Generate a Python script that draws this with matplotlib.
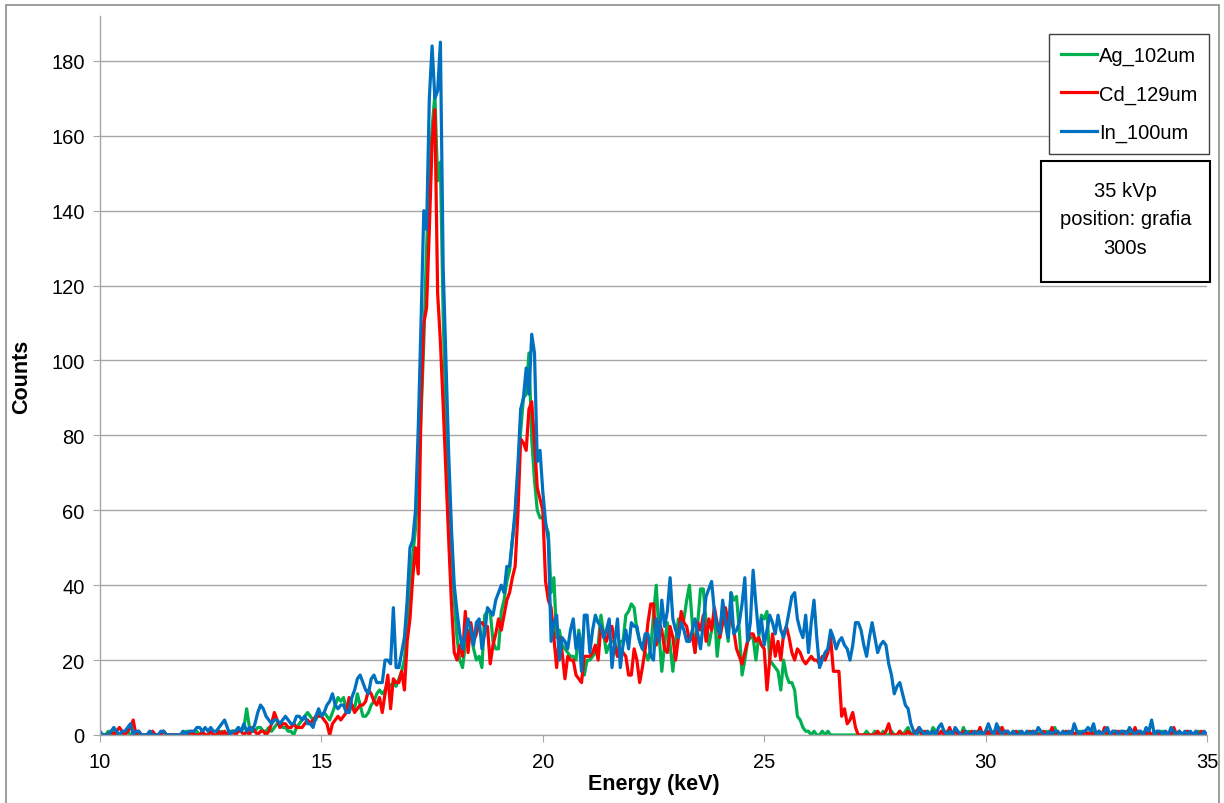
import numpy as np
import matplotlib
matplotlib.use("Agg")
import matplotlib.pyplot as plt
from matplotlib.patches import Rectangle

# energy grid: 10..35 keV, 1/16 keV per channel
energy = np.arange(401) / 16.0 + 10.0

# one row per keV (16 channels), last value is 35.0 keV
ag_102um = [
    0, 0, 0, 1, 0, 1, 0, 0, 0, 0, 1, 0, 0, 0, 0, 0,              # 10
    0, 0, 1, 0, 0, 0, 0, 1, 0, 0, 0, 0, 0, 0, 0, 1,              # 11
    0, 0, 0, 1, 0, 0, 0, 0, 1, 0, 0, 0, 1, 0, 0, 1,              # 12
    1, 1, 2, 1, 2, 7, 2, 1, 1, 2, 2, 1, 1, 2, 1, 2,              # 13
    3, 3, 2, 2, 1, 1, 0, 2, 3, 4, 5, 6, 5, 4, 4, 6,              # 14
    5, 6, 5, 4, 6, 8, 10, 9, 10, 7, 6, 8, 7, 11, 8, 5,           # 15
    5, 6, 8, 9, 11, 12, 11, 12, 14, 13, 14, 13, 15, 17, 20, 30,  # 16
    42, 48, 55, 68, 85, 105, 130, 148, 162, 171, 148, 153, 112, 85, 68, 52,  # 17
    36, 26, 20, 18, 24, 28, 27, 23, 20, 21, 18, 32, 33, 33, 25, 23,  # 18
    23, 33, 36, 41, 44, 52, 58, 70, 81, 90, 91, 102, 79, 68, 60, 58,  # 19
    58, 56, 54, 38, 42, 26, 28, 24, 23, 22, 21, 21, 20, 28, 24, 16,  # 20
    20, 20, 21, 22, 24, 32, 27, 22, 24, 25, 25, 21, 25, 25, 32, 33,  # 21
    35, 34, 28, 25, 23, 22, 20, 23, 32, 40, 27, 17, 24, 30, 24, 17,  # 22
    25, 31, 30, 31, 36, 40, 30, 22, 30, 39, 39, 30, 24, 28, 33, 21,  # 23
    28, 34, 30, 25, 38, 36, 37, 28, 16, 20, 25, 26, 26, 20, 26, 32,  # 24
    31, 33, 20, 19, 18, 17, 12, 20, 16, 14, 14, 12, 5, 4, 2, 1,  # 25
    1, 0, 1, 0, 0, 1, 0, 1, 0, 0, 0, 0, 0, 0, 0, 0,              # 26
    0, 0, 0, 0, 0, 1, 0, 0, 1, 0, 0, 1, 0, 0, 1, 0,              # 27
    0, 1, 0, 1, 2, 0, 1, 0, 1, 0, 0, 1, 0, 2, 1, 0,              # 28
    1, 0, 1, 0, 0, 1, 0, 0, 2, 0, 1, 0, 0, 1, 0, 0,              # 29
    1, 0, 0, 1, 0, 2, 0, 1, 0, 0, 1, 0, 1, 0, 0, 1,              # 30
    0, 1, 0, 0, 1, 0, 1, 0, 0, 2, 0, 0, 1, 0, 1, 0,              # 31
    0, 0, 1, 0, 1, 0, 0, 1, 0, 1, 0, 0, 1, 0, 0, 1,              # 32
    0, 1, 0, 0, 1, 0, 1, 0, 0, 0, 1, 0, 0, 1, 0, 0,              # 33
    1, 0, 0, 1, 0, 0, 1, 0, 0, 1, 0, 0, 0, 1, 0, 0,              # 34
    0,
]

cd_129um = [
    0, 0, 0, 0, 1, 0, 1, 2, 1, 0, 1, 2, 4, 0, 1, 0,              # 10
    0, 0, 0, 1, 0, 0, 0, 1, 0, 0, 0, 0, 0, 0, 0, 0,              # 11
    0, 1, 0, 0, 0, 1, 0, 0, 1, 0, 0, 1, 0, 1, 0, 0,              # 12
    1, 0, 1, 1, 0, 1, 0, 2, 1, 0, 1, 1, 0, 1, 3, 6,              # 13
    4, 2, 3, 3, 2, 2, 3, 2, 2, 2, 3, 4, 3, 4, 5, 5,              # 14
    5, 4, 3, 0, 3, 4, 5, 4, 5, 6, 10, 8, 6, 7, 8, 8,             # 15
    9, 12, 11, 9, 8, 10, 6, 11, 16, 7, 15, 14, 14, 17, 12, 25,   # 16
    31, 42, 50, 43, 88, 110, 114, 135, 158, 167, 118, 105, 88, 70, 52, 35,  # 17
    22, 20, 24, 21, 33, 22, 30, 25, 27, 30, 30, 29, 29, 19, 24, 27,  # 18
    31, 28, 32, 36, 38, 42, 45, 59, 79, 78, 76, 87, 89, 78, 66, 63,  # 19
    60, 41, 36, 34, 26, 18, 26, 22, 15, 21, 20, 20, 16, 15, 14, 21,  # 20
    21, 21, 22, 24, 20, 29, 27, 25, 28, 29, 24, 21, 23, 22, 21, 16,  # 21
    16, 23, 20, 14, 18, 23, 30, 35, 35, 24, 30, 28, 23, 22, 29, 26,  # 22
    20, 26, 33, 30, 29, 25, 27, 22, 30, 28, 32, 25, 31, 28, 34, 30,  # 23
    26, 30, 34, 30, 31, 28, 23, 21, 19, 22, 25, 27, 27, 25, 26, 24,  # 24
    23, 12, 20, 27, 21, 25, 20, 27, 29, 26, 22, 20, 23, 22, 20, 19,  # 25
    20, 21, 20, 20, 19, 21, 20, 22, 26, 17, 17, 17, 5, 7, 3, 4,  # 26
    6, 2, 0, 0, 0, 0, 0, 0, 0, 1, 0, 0, 1, 3, 0, 0,              # 27
    0, 1, 0, 0, 1, 0, 0, 1, 2, 0, 1, 0, 0, 1, 0, 0,              # 28
    1, 0, 0, 2, 0, 1, 0, 0, 1, 0, 0, 1, 0, 0, 2, 0,              # 29
    0, 1, 0, 0, 1, 0, 2, 0, 1, 0, 0, 1, 0, 1, 0, 0,              # 30
    1, 0, 1, 0, 0, 1, 0, 0, 2, 0, 1, 0, 0, 1, 0, 1,              # 31
    0, 1, 0, 0, 1, 0, 1, 0, 0, 1, 0, 2, 0, 0, 1, 0,              # 32
    1, 0, 0, 1, 0, 0, 2, 0, 1, 0, 0, 1, 0, 0, 1, 0,              # 33
    0, 1, 0, 0, 2, 0, 1, 0, 0, 1, 0, 0, 1, 0, 1, 0,              # 34
    0,
]

in_100um = [
    1, 0, 0, 0, 1, 2, 1, 0, 1, 1, 2, 3, 0, 1, 1, 0,              # 10
    0, 0, 1, 0, 0, 0, 1, 1, 0, 0, 0, 0, 0, 0, 1, 0,              # 11
    1, 1, 1, 2, 2, 1, 2, 1, 2, 1, 1, 2, 3, 4, 2, 0,              # 12
    1, 1, 2, 1, 3, 1, 2, 1, 3, 6, 8, 7, 5, 4, 3, 4,              # 13
    4, 3, 4, 5, 4, 3, 3, 5, 5, 4, 5, 3, 3, 2, 5, 7,              # 14
    5, 6, 8, 9, 11, 8, 7, 8, 8, 6, 6, 10, 12, 15, 16, 14,        # 15
    12, 11, 15, 16, 14, 14, 14, 20, 20, 19, 34, 18, 18, 22, 26, 36,  # 16
    50, 52, 60, 82, 110, 140, 135, 170, 184, 170, 172, 185, 125, 100, 75, 55,  # 17
    40, 33, 27, 23, 27, 31, 28, 24, 30, 31, 23, 27, 34, 33, 32, 36,  # 18
    38, 40, 38, 45, 45, 52, 60, 72, 87, 90, 98, 91, 107, 102, 73, 76,  # 19
    65, 57, 52, 25, 30, 32, 20, 26, 25, 23, 28, 31, 23, 27, 17, 32,  # 20
    32, 22, 28, 32, 30, 29, 26, 28, 31, 18, 25, 31, 18, 24, 28, 23,  # 21
    30, 29, 29, 25, 23, 27, 27, 21, 20, 31, 25, 36, 29, 33, 42, 31,  # 22
    28, 26, 30, 28, 25, 25, 28, 31, 27, 23, 30, 37, 39, 41, 33, 29,  # 23
    27, 36, 30, 26, 38, 27, 28, 30, 35, 42, 25, 30, 44, 35, 27, 31,  # 24
    24, 28, 32, 30, 27, 32, 28, 26, 29, 33, 37, 38, 31, 28, 26, 32,  # 25
    22, 30, 36, 26, 18, 20, 22, 23, 28, 26, 23, 25, 26, 24, 23, 20,  # 26
    24, 30, 30, 28, 24, 21, 26, 30, 26, 22, 24, 25, 24, 19, 16, 11,  # 27
    13, 14, 11, 8, 7, 3, 1, 0, 2, 1, 0, 1, 0, 1, 0, 2,           # 28
    3, 1, 0, 1, 0, 2, 1, 0, 0, 1, 0, 0, 1, 0, 1, 0,              # 29
    1, 3, 1, 0, 3, 1, 0, 1, 1, 0, 1, 0, 0, 1, 0, 1,              # 30
    0, 1, 0, 2, 1, 0, 0, 1, 0, 1, 1, 0, 1, 0, 1, 0,              # 31
    3, 1, 0, 1, 1, 2, 1, 3, 0, 1, 0, 1, 2, 0, 1, 1,              # 32
    0, 1, 1, 0, 2, 1, 0, 1, 1, 0, 2, 1, 4, 0, 1, 1,              # 33
    0, 1, 0, 2, 1, 0, 1, 0, 1, 0, 1, 0, 1, 0, 0, 1,              # 34
    0,
]

series_names = ["Ag_102um", "Cd_129um", "In_100um"]
series_colors = ["#00b050", "#ff0000", "#0070c0"]
info_text = "35 kVp\nposition: grafia\n300s"

plt.rcParams['font.family'] = ['Liberation Sans', 'DejaVu Sans']

fig = plt.figure(figsize=(12.24, 8.04), dpi=100)
ax = fig.add_axes([0.0817, 0.0846, 0.9044, 0.8943])

for ys, name, col in zip([ag_102um, cd_129um, in_100um], series_names, series_colors):
    ax.plot(energy, ys, color=col, lw=2.3, label=name, solid_joinstyle='round')

ax.set_xlim(10, 35)
ax.set_ylim(0, 192)
ax.set_xticks([10, 15, 20, 25, 30, 35])
ax.set_yticks(range(0, 181, 20))
ax.yaxis.grid(True, color='#a6a6a6', lw=1.0)
ax.set_axisbelow(True)
for s in ['top', 'right']:
    ax.spines[s].set_visible(False)
for s in ['left', 'bottom']:
    ax.spines[s].set_color('#a6a6a6')
    ax.spines[s].set_linewidth(1.0)
ax.tick_params(axis='both', direction='out', length=5, color='#a6a6a6',
               labelsize=14.5, pad=6)
ax.tick_params(axis='x', pad=7)

ax.set_xlabel("Energy (keV)", fontsize=15.5, fontweight='bold', labelpad=2)
ax.set_ylabel("Counts", fontsize=15.5, fontweight='bold', labelpad=14)

leg = ax.legend(loc='upper right', bbox_to_anchor=(0.988, 0.9565),
                bbox_transform=fig.transFigure, borderaxespad=0,
                fontsize=14.5, handlelength=1.8, handletextpad=0.1,
                labelspacing=0.95, borderpad=0.6, fancybox=False,
                framealpha=1, edgecolor='#404040')
leg.get_frame().set_linewidth(1.0)

# info box
fig.add_artist(Rectangle((0.8505, 0.648), 0.138, 0.1505, transform=fig.transFigure,
                         fc='white', ec='black', lw=1.5))
fig.text(0.9195, 0.7264, info_text, ha='center', va='center', fontsize=14.5,
         linespacing=1.65)

# outer chart border
fig.add_artist(Rectangle((0.005, -0.01), 0.991, 1.003, transform=fig.transFigure,
                         fill=False, ec='#8c8c8c', lw=1.2))

fig.savefig("out.png", dpi=100)
